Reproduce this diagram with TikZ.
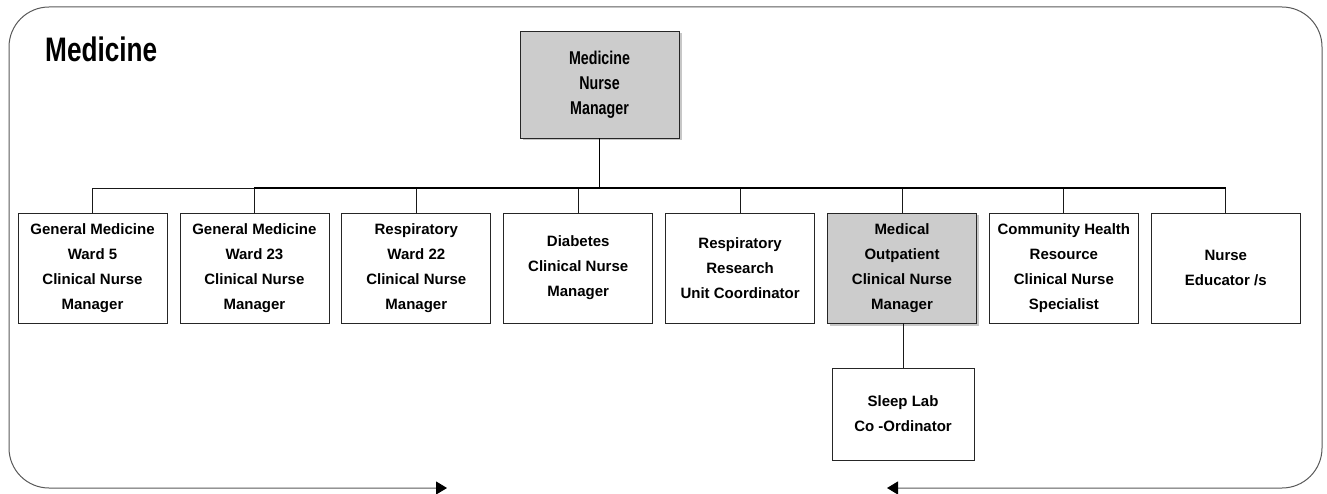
\documentclass[tikz,border=0pt]{standalone}
\usepackage{fontspec}
\setmainfont{Liberation Sans}
\newfontfamily\narrowfont{Liberation Sans}[FakeStretch=0.77]
\usetikzlibrary{arrows.meta,shadows}

\tikzset{
  unitbox/.style={draw=black!85, line width=0.8pt, fill=white,
    minimum width=149pt, minimum height=110pt, inner sep=0pt, align=center,
    font=\bfseries\fontsize{15}{25}\selectfont},
  shaded/.style={fill=black!20,
    drop shadow={shadow xshift=2.5pt, shadow yshift=-2.5pt, fill=black!22, opacity=1}},
  link/.style={draw=black!90, line width=0.9pt},
  trunk/.style={draw=black, line width=1.4pt},
  frametip/.tip={Triangle[length=11pt,width=13pt,color=black]},
  frame/.style={draw=black!65, line width=1pt, rounded corners=40pt,
    frametip-frametip}
}

\begin{document}
\begin{tikzpicture}[x=1pt,y=-1pt]
\useasboundingbox (0,0) rectangle (1327,494);

% open frame with the two inward arrows at the bottom
\coordinate (lTip) at (447,488);
\coordinate (rTip) at (887,488);
\draw[frame] (lTip) -| (9,7) -| (1322,488) -- (rTip);

% title
\node[anchor=base west, inner sep=0pt,
      font=\narrowfont\bfseries\fontsize{34}{34}\selectfont] (title) at (45,62) {Medicine};

% head of the unit
\node[unitbox, shaded, minimum width=159pt, minimum height=107pt,
      font=\narrowfont\bfseries\fontsize{18.5}{25}\selectfont] (head) at (599.5,84.5)
  {Medicine\\Nurse\\Manager};

% reporting units
\node[unitbox] (c1) at (92.5,268)  {General Medicine\\Ward 5\\Clinical Nurse\\Manager};
\node[unitbox] (c2) at (254.4,268) {General Medicine\\Ward 23\\Clinical Nurse\\Manager};
\node[unitbox] (c3) at (416.3,268) {Respiratory\\Ward 22\\Clinical Nurse\\Manager};
\node[unitbox] (c4) at (578.2,268) {Diabetes\\Clinical Nurse\\Manager};
\node[unitbox] (c5) at (740.1,268) {Respiratory\\Research\\Unit Coordinator};
\node[unitbox, shaded] (c6) at (902,268) {Medical\\Outpatient\\Clinical Nurse\\Manager};
\node[unitbox] (c7) at (1063.9,268) {Community Health\\Resource\\Clinical Nurse\\Specialist};
\node[unitbox] (c8) at (1225.8,268) {Nurse\\Educator /s};

\node[unitbox, minimum width=142pt, minimum height=92pt] (sleep) at (903,414)
  {Sleep Lab\\Co -Ordinator};

% connectors
\coordinate (bus) at (599.5,188);
\draw[trunk] (head.south) -- (bus);
\foreach \i in {1,...,8}{
  \draw[link] (c\i.north) |- (bus);
}
\draw[trunk, line width=1.3pt] (c2.north |- bus) -- (c8.north |- bus);
\draw[link] (c6.south -| sleep.north) -- (sleep.north);
\end{tikzpicture}
\end{document}
